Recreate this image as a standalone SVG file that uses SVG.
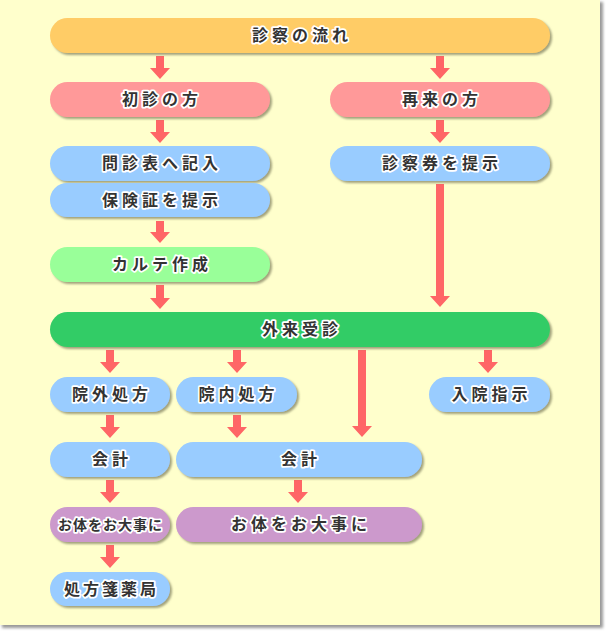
<svg xmlns="http://www.w3.org/2000/svg" width="606" height="631" viewBox="0 0 606 631">
<defs>
<filter id="sh" x="-10%" y="-30%" width="120%" height="170%">
<feDropShadow dx="2" dy="2" stdDeviation="1.2" flood-color="#7a7a5a" flood-opacity="0.7"/>
</filter>
<filter id="psh" x="-5%" y="-5%" width="110%" height="110%">
<feGaussianBlur stdDeviation="1.5"/>
</filter>
</defs>
<style>
.n{filter:url(#sh)}
.t{font-family:"Noto Sans CJK JP","Noto Sans CJK SC",sans-serif;font-weight:bold;font-size:16px;letter-spacing:4px;fill:#333;stroke:#fff;stroke-width:3.5px;stroke-linejoin:round;paint-order:stroke;text-anchor:middle}
.a{fill:#FF6666}
.y{fill:#FFCC66}.p{fill:#FF9999}.b{fill:#99CCFF}.g{fill:#99FF99}.d{fill:#33CC66}.v{fill:#CC99CC}
</style>
<rect x="0" y="0" width="606" height="631" fill="#fff"/>
<rect x="2" y="2" width="601" height="626" fill="#999" filter="url(#psh)"/>
<rect x="0" y="0" width="600" height="625" fill="#FFFFCC"/>
<g id="connectors">
<polygon class="a" points="156,56 164,56 164,68 170,68 160,79 150,68 156,68"/>
<polygon class="a" points="436,56 444,56 444,68 450,68 440,79 430,68 436,68"/>
<polygon class="a" points="156,120 164,120 164,132 170,132 160,143 150,132 156,132"/>
<polygon class="a" points="436,120 444,120 444,132 450,132 440,143 430,132 436,132"/>
<polygon class="a" points="156,221 164,221 164,232 170,232 160,243 150,232 156,232"/>
<polygon class="a" points="436,184 444,184 444,296 450,296 440,307 430,296 436,296"/>
<polygon class="a" points="156,285 164,285 164,298 170,298 160,309 150,298 156,298"/>
<polygon class="a" points="106,350 114,350 114,362 120,362 110,373 100,362 106,362"/>
<polygon class="a" points="233,350 241,350 241,362 247,362 237,373 227,362 233,362"/>
<polygon class="a" points="358,350 366,350 366,426 372,426 362,437 352,426 358,426"/>
<polygon class="a" points="484,350 492,350 492,362 498,362 488,373 478,362 484,362"/>
<polygon class="a" points="106,415 114,415 114,427 120,427 110,438 100,427 106,427"/>
<polygon class="a" points="233,415 241,415 241,427 247,427 237,438 227,427 233,427"/>
<polygon class="a" points="106,480 114,480 114,492 120,492 110,503 100,492 106,492"/>
<polygon class="a" points="294,480 302,480 302,492 308,492 298,503 288,492 294,492"/>
<polygon class="a" points="106,545 114,545 114,557 120,557 110,568 100,557 106,557"/>
</g>
<g id="n_flow"><rect class="n y" x="50" y="18" width="500" height="35" rx="17.5"/><text class="t" x="302" y="41">診察の流れ</text></g>
<g id="n_first"><rect class="n p" x="50" y="82" width="220" height="35" rx="17.5"/><text class="t" x="162" y="105">初診の方</text></g>
<g id="n_return"><rect class="n p" x="330" y="82" width="220" height="35" rx="17.5"/><text class="t" x="442" y="105">再来の方</text></g>
<g id="n_form"><rect class="n b" x="50" y="146" width="220" height="35" rx="17.5"/><text class="t" x="162" y="169">問診表へ記入</text></g>
<g id="n_card"><rect class="n b" x="330" y="146" width="220" height="35" rx="17.5"/><text class="t" x="442" y="169">診察券を提示</text></g>
<g id="n_insurance"><rect class="n b" x="50" y="183" width="220" height="34" rx="17"/><text class="t" x="162" y="206">保険証を提示</text></g>
<g id="n_karte"><rect class="n g" x="50" y="247" width="220" height="35" rx="17.5"/><text class="t" x="162" y="270">カルテ作成</text></g>
<g id="n_visit"><rect class="n d" x="50" y="312" width="500" height="35" rx="17.5"/><text class="t" x="302" y="335">外来受診</text></g>
<g id="n_outrx"><rect class="n b" x="50" y="377" width="120" height="35" rx="17.5"/><text class="t" x="112" y="400">院外処方</text></g>
<g id="n_inrx"><rect class="n b" x="176" y="377" width="121" height="35" rx="17.5"/><text class="t" x="238.5" y="400">院内処方</text></g>
<g id="n_admit"><rect class="n b" x="429" y="377" width="121" height="35" rx="17.5"/><text class="t" x="491.5" y="400">入院指示</text></g>
<g id="n_pay1"><rect class="n b" x="50" y="442" width="120" height="35" rx="17.5"/><text class="t" x="112" y="465">会計</text></g>
<g id="n_pay2"><rect class="n b" x="176" y="442" width="246" height="35" rx="17.5"/><text class="t" x="301" y="465">会計</text></g>
<g id="n_care1"><rect class="n v" x="50" y="507" width="120" height="35" rx="17.5"/><text class="t" x="110.5" y="530" style="font-size:14px;letter-spacing:1px">お体をお大事に</text></g>
<g id="n_care2"><rect class="n v" x="176" y="507" width="246" height="35" rx="17.5"/><text class="t" x="301" y="530">お体をお大事に</text></g>
<g id="n_pharmacy"><rect class="n b" x="50" y="572" width="120" height="34" rx="17"/><text class="t" x="111.5" y="595" style="letter-spacing:3px">処方箋薬局</text></g>
</svg>
